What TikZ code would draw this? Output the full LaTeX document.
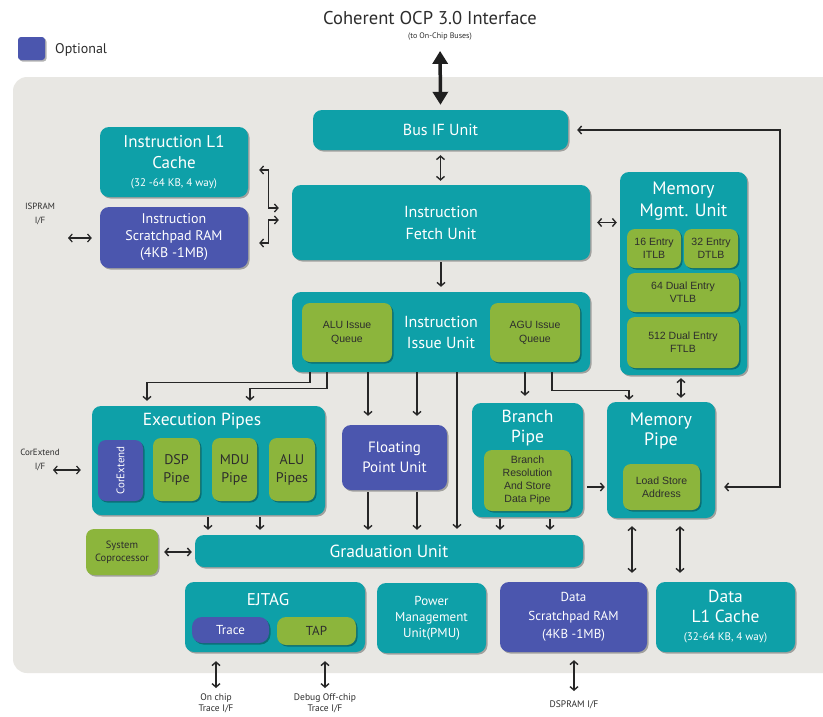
\documentclass[tikz,border=0pt]{standalone}
\usepackage{fontspec}
\setmainfont{PT Sans}
\newfontfamily\arialf{Liberation Sans}
\usetikzlibrary{arrows.meta,shadows,calc}

\definecolor{tealc}{RGB}{14,160,168}
\definecolor{greenc}{RGB}{140,181,60}
\definecolor{bluec}{RGB}{75,86,174}
\definecolor{panelc}{RGB}{232,231,227}
\definecolor{txtd}{RGB}{45,45,45}
\newcommand\fsz[2]{\fontsize{#1}{#2}\selectfont}

\tikzset{
  box/.style={rounded corners=9pt, inner sep=0pt, align=center,
    drop shadow={shadow xshift=1.5pt,shadow yshift=-1.5pt,opacity=0.3,fill=black}},
  tealbox/.style={box, fill=tealc, text=white},
  bluebox/.style={box, fill=bluec, text=white},
  greenbox/.style={box, fill=greenc, text=txtd, rounded corners=8pt},
  wh/.style 2 args={minimum width=#1pt, minimum height=#2pt},
  lbl/.style={text=txtd, align=center, inner sep=0pt},
  arr/.style={draw=black!85, line width=1.4pt, -{Straight Barb[length=3.5pt,width=8pt]}},
  dbl/.style={draw=black!85, line width=1.4pt, {Straight Barb[length=3.5pt,width=8pt]}-{Straight Barb[length=3.5pt,width=8pt]}},
}

\begin{document}
\begin{tikzpicture}[x=1pt,y=-1pt]
\useasboundingbox (0,0) rectangle (823,716);
\clip (0,0) rectangle (823,716);
\fill[white] (0,0) rectangle (823,716);
\fill[panelc, rounded corners=14pt] (13,77) rectangle (850,673);

% title and legend
\node[lbl, font=\fsz{18.5}{20}] (title) at (430,18) {Coherent OCP 3.0 Interface};
\node[lbl, font=\fsz{8}{9}] (sub) at (440,37) {(to On-Chip Buses)};
\node[bluebox, wh={27}{23}, rounded corners=3pt] (legend) at (31.5,48.5) {};
\node[lbl, anchor=west, font=\fsz{14}{16}] (optl) at (55,50) {Optional};

% top row
\node[tealbox, wh={255}{40}, font=\fsz{16}{19}] (bus) at (440.5,130) {Bus IF Unit};
\node[tealbox, wh={148}{70}, font=\fsz{17}{21}] (icache) at (174,162)
  {\raisebox{0pt}[0pt][0pt]{}Instruction L1\\Cache\\[-3pt]{\fsz{11}{13}(32 -64 KB, 4 way)}};
\node[bluebox, wh={148}{61}, font=\fsz{14}{17}] (ispram) at (174,237.5)
  {Instruction\\Scratchpad RAM\\(4KB -1MB)};
\node[tealbox, wh={298}{75}, font=\fsz{16}{22}] (fetch) at (441,222.5) {Instruction\\Fetch Unit};

% MMU
\node[tealbox, wh={127}{203}] (mmu) at (683.5,273.5) {};
\node[lbl, text=white, font=\fsz{18}{22}] (mmut) at (683.5,201) {Memory\\Mgmt. Unit};
\node[greenbox, wh={54}{39}, font=\arialf\fsz{10.5}{13}] (itlb) at (654,248.5) {16 Entry\\ITLB};
\node[greenbox, wh={54}{39}, font=\arialf\fsz{10.5}{13}] (dtlb) at (711,248.5) {32 Entry\\DTLB};
\node[greenbox, wh={112}{39}, font=\arialf\fsz{10.5}{13}] (vtlb) at (683,292.5) {64 Dual Entry\\VTLB};
\node[greenbox, wh={112}{51}, font=\arialf\fsz{10.5}{13}] (ftlb) at (683,342.5) {512 Dual Entry\\FTLB};

% issue unit
\node[tealbox, wh={298}{80}, font=\fsz{16}{21}] (issue) at (441,332) {Instruction\\Issue Unit};
\node[greenbox, wh={90}{59}, font=\arialf\fsz{10.5}{14}] (aluq) at (347,332.5) {ALU Issue\\Queue};
\node[greenbox, wh={90}{59}, font=\arialf\fsz{10.5}{14}] (aguq) at (535,332.5) {AGU Issue\\Queue};

% execution pipes
\node[tealbox, wh={233}{109}] (exec) at (208.5,460.5) {};
\node[lbl, text=white, font=\fsz{17.5}{20}] (exect) at (202,421) {Execution Pipes};
\node[bluebox, wh={45}{61}, rounded corners=8pt] (corext) at (120.5,470.5) {};
\node[lbl, text=white, rotate=90, font=\fsz{11}{13}] (corextl) at (corext) {CorExtend};
\node[greenbox, wh={47}{63}, font=\fsz{14}{18}] (dsp) at (176.5,469.5) {DSP\\Pipe};
\node[greenbox, wh={45}{63}, font=\fsz{14}{18}] (mdu) at (234.5,469.5) {MDU\\Pipe};
\node[greenbox, wh={46}{63}, font=\fsz{14}{18}] (alup) at (292,469.5) {ALU\\Pipes};

% FPU, branch, memory pipe
\node[bluebox, wh={105}{65}, font=\fsz{15}{20}] (fpu) at (394.5,457.5) {Floating\\Point Unit};
\node[tealbox, wh={111}{114}] (branch) at (527.5,460) {};
\node[lbl, text=white, font=\fsz{17.5}{20}] (brancht) at (527.5,428) {Branch\\Pipe};
\node[greenbox, wh={87}{61}, font=\arialf\fsz{10.5}{13}] (brin) at (527.5,480.5)
  {Branch\\Resolution\\And Store\\Data Pipe};
\node[tealbox, wh={108}{116}] (mempipe) at (661,460) {};
\node[lbl, text=white, font=\fsz{18}{20}] (mempipet) at (661,430.5) {Memory\\Pipe};
\node[greenbox, wh={77}{46}, font=\arialf\fsz{10.5}{13}] (lsa) at (661.5,487) {Load Store\\Address};

% graduation
\node[tealbox, wh={388}{32}, font=\fsz{17.5}{19}] (grad) at (389,551) {Graduation Unit};
\node[greenbox, wh={72}{46}, font=\fsz{10.5}{13}] (syscop) at (122,552) {System\\Coprocessor};

% bottom row
\node[tealbox, wh={180}{70}] (ejtag) at (275,617) {};
\node[lbl, text=white, font=\fsz{17}{19}] (ejtagt) at (268,600) {EJTAG};
\node[bluebox, wh={77}{26}, rounded corners=10pt, font=\fsz{13}{14}] (trace) at (230.5,630) {Trace};
\node[greenbox, wh={79}{28}, rounded corners=9pt, font=\fsz{13}{14}] (tap) at (316.5,631) {TAP};
\node[tealbox, wh={109}{70}, font=\fsz{13}{16}] (pmu) at (431.5,618) {Power\\Management\\Unit(PMU)};
\node[bluebox, wh={147}{70}, font=\fsz{13}{18.5}] (dspram) at (573.5,617) {\rule{0pt}{4pt}Data\\Scratchpad RAM\\(4KB -1MB)};
\node[tealbox, wh={139}{70}, font=\fsz{17.5}{20}] (dcache) at (725.5,617)
  {\rule{0pt}{6pt}Data\\L1 Cache\\[-2pt]{\fsz{11}{13}(32-64 KB, 4 way)}};

% external labels
\node[lbl, font=\fsz{9}{14}] (isprl) at (40,214) {ISPRAM\\I/F};
\node[lbl, font=\fsz{9}{14}] (corl) at (40,460) {CorExtend\\I/F};
\node[lbl, anchor=north, font=\fsz{9.5}{11}] (ontr) at (216,694) {On chip\\Trace I/F};
\node[lbl, anchor=north, font=\fsz{9.5}{11}] (dbgtr) at (325,694) {Debug Off-chip\\Trace I/F};
\node[lbl, anchor=north, font=\fsz{9.5}{11}] (dspl) at (574,701) {DSPRAM I/F};

\coordinate (ispif) at (68,238);
\coordinate (corif) at (53,470);

% connectors
\draw[line width=3.5pt, draw=black!88,
  {Triangle[length=13pt,width=15pt]}-{Triangle[length=13pt,width=15pt]},
  shorten <=10pt, shorten >=5pt] (sub.south) -- (bus.north);
\draw[dbl, shorten <=5pt, shorten >=4pt] (bus.south) -- (bus.south |- fetch.north);
\draw[arr, shorten <=2pt, shorten >=5pt] (fetch.south) -- (fetch.south |- issue.north);
\draw[dbl, shorten <=7pt, shorten >=3pt] (fetch.east) -- (fetch.east -| mmu.west);
\draw[dbl, line width=1.3pt] ([xshift=11pt,yshift=-8pt]icache.east) -- ++(9,0)
  |- ([xshift=-13pt,yshift=14.5pt]fetch.west);
\draw[dbl, line width=1.3pt] ([xshift=11pt,yshift=-5.5pt]ispram.east) -- ++(9,0)
  |- ([xshift=-13pt,yshift=2.5pt]fetch.west);
\draw[dbl, line width=1.2pt, shorten >=8pt] (ispif) -- (ispif -| ispram.west);
\draw[dbl, line width=1.2pt, shorten >=11pt] (corif) -- (corif -| exec.west);

\coordinate (a1) at ([xshift=-131pt]issue.south);
\coordinate (a2) at ([xshift=-114pt]issue.south);
\coordinate (i1) at ([xshift=-73pt]issue.south);
\coordinate (i2) at ([xshift=-24pt]issue.south);
\coordinate (i3) at ([xshift=16pt]issue.south);
\coordinate (i4) at ([xshift=84pt]issue.south);
\coordinate (i5) at ([xshift=111pt]issue.south);
\draw[arr, shorten >=5pt] (a1) -- ++(0,10) -| ([xshift=-61.5pt]exec.north);
\draw[arr, shorten >=5pt] (a2) -- ++(0,16) -| ([xshift=41.5pt]exec.north);
\draw[arr, shorten >=9pt] (i1) -- (i1 |- fpu.north);
\draw[arr, shorten >=9pt] (i2) -- (i2 |- fpu.north);
\draw[arr, shorten >=6pt] (i3) -- (i3 |- grad.north);
\draw[arr, shorten >=7pt] (i4) -- (i4 |- branch.north);
\draw[arr, shorten >=2pt] (i5) -- ++(0,18) -| ([xshift=-32pt]mempipe.north);

\coordinate (m0) at ([xshift=-2.5pt]mmu.south);
\draw[dbl, shorten <=3pt, shorten >=4pt] (m0) -- (m0 |- mempipe.north);
\draw[arr, shorten <=4pt, shorten >=2pt] ([yshift=-27pt]branch.east) -- ([yshift=-27pt]mempipe.west);
\coordinate (fbk) at (780,487);
\draw[dbl, shorten <=9pt, shorten >=9pt] (bus.east) -| (fbk) -- ([yshift=-27pt]mempipe.east);

\coordinate (e1) at ([xshift=-0.5pt]exec.south);
\coordinate (e2) at ([xshift=51.5pt]exec.south);
\coordinate (f1) at ([xshift=-26.5pt]fpu.south);
\coordinate (f2) at ([xshift=22.5pt]fpu.south);
\coordinate (b1) at ([xshift=-27.5pt]branch.south);
\coordinate (b2) at ([xshift=22.5pt]branch.south);
\foreach \c in {e1,e2,f1,f2,b1,b2}{
  \draw[arr, shorten <=2pt, shorten >=5pt] (\c) -- (\c |- grad.north);
}
\draw[dbl, shorten <=6pt, shorten >=3pt] (syscop.east) -- (syscop.east -| grad.west);

\coordinate (p1) at ([xshift=-29pt]mempipe.south);
\coordinate (p2) at ([xshift=19pt]mempipe.south);
\draw[dbl, shorten <=8pt, shorten >=9pt] (p1) -- (p1 |- dspram.north);
\draw[dbl, shorten <=8pt, shorten >=9pt] (p2) -- (p2 |- dcache.north);

\draw[dbl, shorten <=9pt, shorten >=6pt] (ontr.north |- ejtag.south) -- (ontr.north);
\draw[dbl, shorten <=9pt, shorten >=6pt] (dbgtr.north |- ejtag.south) -- (dbgtr.north);
\draw[dbl, shorten <=8pt, shorten >=10pt] (dspl.north |- dspram.south) -- (dspl.north);
\end{tikzpicture}
\end{document}
